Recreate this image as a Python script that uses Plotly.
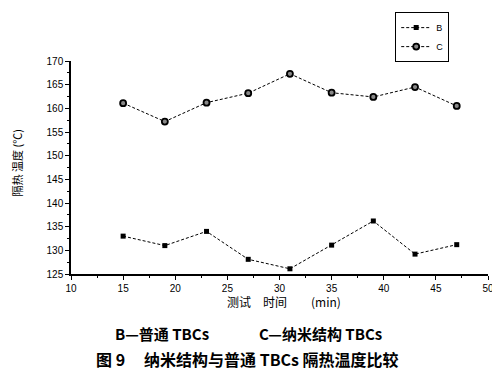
import plotly.graph_objects as go

time_min = [15, 19, 23, 27, 31, 35, 39, 43, 47]
b_temp = [133.0, 131.0, 134.0, 128.1, 126.1, 131.1, 136.2, 129.2, 131.2]
c_temp = [161.1, 157.2, 161.2, 163.2, 167.3, 163.3, 162.4, 164.5, 160.5]

SP = "\u3000"
CJK = "Noto Sans CJK SC"

fig = go.Figure()
fig.add_trace(go.Scatter(
    x=time_min, y=b_temp, name="B", mode="lines+markers",
    line=dict(color="black", width=1, dash="3px,2px"),
    marker=dict(symbol="square", size=5, color="black"),
))
fig.add_trace(go.Scatter(
    x=time_min, y=c_temp, name="C", mode="lines+markers",
    line=dict(color="black", width=1, dash="3px,2px"),
    marker=dict(symbol="circle", size=6, color="#888888", line=dict(color="black", width=1.8)),
))

# page has an 8px body margin, so the figure is 492x374 and offset by 8px
fig.update_layout(
    width=492, height=374,
    margin=dict(l=63, r=12, t=53, b=108, autoexpand=False),
    paper_bgcolor="white", plot_bgcolor="white",
    font=dict(family="Liberation Sans, " + CJK, color="black", size=10),
    legend=dict(
        xref="container", yref="container",
        x=0.787, y=0.989, xanchor="left", yanchor="top",
        bordercolor="black", borderwidth=1, bgcolor="white",
        font=dict(size=9, family="Liberation Sans, " + CJK),
        tracegroupgap=0, itemwidth=30,
    ),
    xaxis=dict(
        range=[10, 50], dtick=5, tick0=10,
        showline=True, linecolor="black", linewidth=1.5,
        ticks="outside", ticklen=4, tickcolor="black",
        minor=dict(ticks="outside", ticklen=2, dtick=2.5, tickcolor="black"),
        showgrid=False, zeroline=False,
        tickfont=dict(size=10),
    ),
    yaxis=dict(
        range=[125, 170], dtick=5, tick0=125,
        showline=True, linecolor="black", linewidth=1.5,
        ticks="outside", ticklen=4, tickcolor="black",
        minor=dict(ticks="outside", ticklen=2, dtick=2.5, tickcolor="black"),
        showgrid=False, zeroline=False,
        tickfont=dict(size=10),
    ),
)

# axis titles
fig.add_annotation(
    text=f"测试{SP}时间{SP}{SP}(min)",
    xref="paper", yref="paper", x=0.369, y=-0.127, xanchor="left", yanchor="middle",
    showarrow=False, font=dict(size=12, family=CJK, color="black"),
)
fig.add_annotation(
    text="隔热 温度 (℃)", textangle=-90,
    xref="paper", yref="paper", x=-0.129, y=0.52, xanchor="center", yanchor="middle",
    showarrow=False, font=dict(size=11, family=CJK, color="black"),
)

# captions
fig.add_annotation(
    text="<b>B—普通 TBCs</b>",
    xref="paper", yref="paper", x=0.101, y=-0.28, xanchor="left", yanchor="middle",
    showarrow=False, font=dict(size=15, family=CJK, color="black"),
)
fig.add_annotation(
    text="<b>C—纳米结构 TBCs</b>",
    xref="paper", yref="paper", x=0.446, y=-0.28, xanchor="left", yanchor="middle",
    showarrow=False, font=dict(size=15, family=CJK, color="black"),
)
fig.add_annotation(
    text="<b>图 9</b>",
    xref="paper", yref="paper", x=0.055, y=-0.397, xanchor="left", yanchor="middle",
    showarrow=False, font=dict(size=16, family=CJK, color="black"),
)
fig.add_annotation(
    text="<b>纳米结构与普通 TBCs 隔热温度比较</b>",
    xref="paper", yref="paper", x=0.170, y=-0.397, xanchor="left", yanchor="middle",
    showarrow=False, font=dict(size=16, family=CJK, color="black"),
)

fig.write_html("out.html")
